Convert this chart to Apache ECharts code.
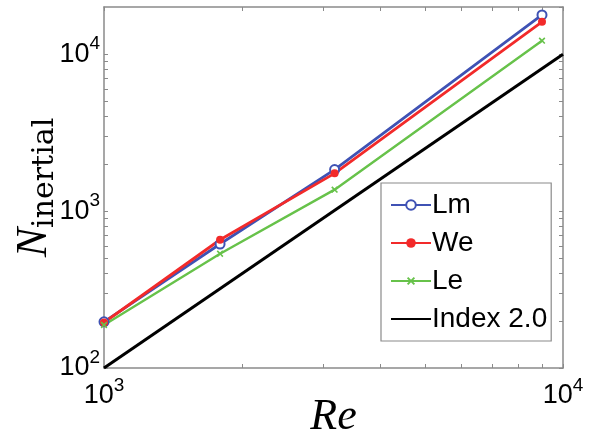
<!DOCTYPE html>
<html>
<head>
<meta charset="utf-8">
<script src="https://cdn.jsdelivr.net/npm/echarts@6/dist/echarts.min.js"></script>
<style>
  html, body { margin: 0; padding: 0; background: #fff; }
  #chart { width: 589px; height: 438px; }
</style>
</head>
<body>
<div id="chart"></div>
<script>
// Reynolds numbers of the runs
const reValues = [1000, 1790, 3180, 9000];
// Number of inertial-range points per model
const lmValues = [197, 617, 1840, 17800];
const weValues = [195, 657, 1740, 16100];
const leValues = [188, 535, 1370, 12200];
// Reference slope line, N ~ Re^2
const indexRe = [1000, 10000];
const indexN = [100, 10000];

const xTicks = [1000, 2000, 3000, 4000, 5000, 6000, 7000, 8000, 9000, 10000];
const yTicks = [100, 200, 300, 400, 500, 600, 700, 800, 900,
                1000, 2000, 3000, 4000, 5000, 6000, 7000, 8000, 9000,
                10000, 20000];

const pairs = (xs, ys) => xs.map((x, i) => [x, ys[i]]);

const axisGrey = '#8a8a8a';
const labelRich = {
  b: { fontFamily: 'Liberation Sans', fontSize: 27, lineHeight: 40, color: '#000' },
  s: { fontFamily: 'Liberation Sans', fontSize: 19, lineHeight: 14, verticalAlign: 'top', color: '#000' }
};
const powLabel = v => '{b|10}{s|' + Math.round(Math.log10(v)) + '}';

const chart = echarts.init(document.getElementById('chart'));
chart.setOption({
  animation: false,
  backgroundColor: '#fff',
  grid: { left: 104, right: 26, top: 7, bottom: 70, outerBoundsMode: 'none', containLabel: false },
  xAxis: [{
    type: 'log', logBase: 10, min: 1000, max: 10000,
    name: 'Re', nameLocation: 'middle', nameGap: 27, nameMoveOverlap: false,
    nameTextStyle: { fontFamily: 'Liberation Serif', fontStyle: 'italic', fontSize: 44, lineHeight: 44, color: '#000' },
    axisLine: { lineStyle: { color: axisGrey, width: 1.5 } },
    axisTick: { inside: true, length: 4, customValues: xTicks, lineStyle: { color: axisGrey } },
    axisLabel: { margin: 8, formatter: powLabel, rich: labelRich },
    splitLine: { show: false }
  }, {
    type: 'log', logBase: 10, min: 1000, max: 10000, position: 'top',
    axisLine: { lineStyle: { color: axisGrey, width: 1.5 } },
    axisTick: { inside: true, length: 4, customValues: xTicks, lineStyle: { color: axisGrey } },
    axisLabel: { show: false },
    splitLine: { show: false }
  }],
  yAxis: [{
    type: 'log', logBase: 10, min: 100, max: 20000,
    name: '{n|N}{s|inertial}', nameLocation: 'middle', nameGap: 48, nameRotate: 90, nameMoveOverlap: false,
    nameTextStyle: {
      rich: {
        n: { fontFamily: 'Liberation Serif', fontStyle: 'italic', fontSize: 44, lineHeight: 44, verticalAlign: 'bottom', color: '#000' },
        s: { fontFamily: 'DejaVu Serif', fontSize: 30, lineHeight: 30, verticalAlign: 'bottom', color: '#000', padding: [0, 0, -4, 0] }
      }
    },
    axisLine: { lineStyle: { color: axisGrey, width: 1.5 } },
    axisTick: { inside: true, length: 4, customValues: yTicks, lineStyle: { color: axisGrey } },
    axisLabel: { margin: 4, formatter: powLabel, rich: labelRich, showMaxLabel: false },
    splitLine: { show: false }
  }, {
    type: 'log', logBase: 10, min: 100, max: 20000, position: 'right',
    axisLine: { lineStyle: { color: axisGrey, width: 1.5 } },
    axisTick: { inside: true, length: 4, customValues: yTicks, lineStyle: { color: axisGrey } },
    axisLabel: { show: false },
    splitLine: { show: false }
  }],
  legend: {
    orient: 'vertical', left: 381, top: 183,
    padding: [8, 4, 8, 9], itemGap: 10, itemWidth: 40, itemHeight: 12,
    backgroundColor: '#fff', borderColor: axisGrey, borderWidth: 1.2, borderRadius: 0,
    textStyle: { fontFamily: 'Liberation Sans', fontSize: 28, lineHeight: 28, color: '#000', padding: [0, 0, 0, -4] },
    data: ['Lm', 'We', 'Le', { name: 'Index 2.0', itemStyle: { opacity: 0 } }]
  },
  series: [{
    name: 'Lm', type: 'line', data: pairs(reValues, lmValues),
    symbol: 'emptyCircle', symbolSize: 9,
    lineStyle: { color: '#3f52b4', width: 2.8 },
    itemStyle: { color: '#3f52b4', borderWidth: 2 }
  }, {
    name: 'We', type: 'line', data: pairs(reValues, weValues),
    symbol: 'circle', symbolSize: 8,
    lineStyle: { color: '#f22a2a', width: 2.8 },
    itemStyle: { color: '#f22a2a' }
  }, {
    name: 'Le', type: 'line', data: pairs(reValues, leValues),
    symbol: 'path://M4,0H6V4H10V6H6V10H4V6H0V4H4Z', symbolSize: 8, symbolRotate: 45,
    lineStyle: { color: '#67c24a', width: 2.4 },
    itemStyle: { color: '#67c24a' }
  }, {
    name: 'Index 2.0', type: 'line', data: pairs(indexRe, indexN),
    symbol: 'none',
    lineStyle: { color: '#000', width: 3 },
    itemStyle: { color: '#000' }
  }]
});
</script>
</body>
</html>
